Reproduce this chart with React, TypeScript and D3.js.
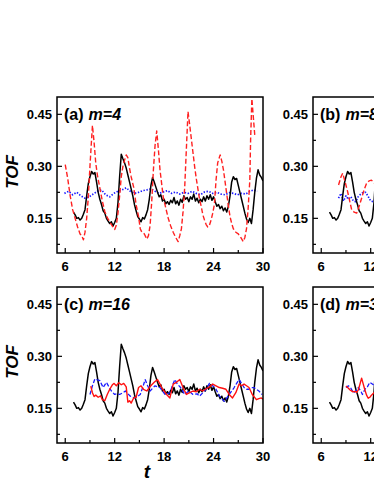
import React from "react";
import * as d3 from "d3";

// ---------- data ----------
const blackT = [7.0,7.2,7.4,7.6,7.8,8.0,8.2,8.4,8.6,8.8,9.0,9.2,9.4,9.6,9.8,10.0,10.2,10.4,10.6,10.8,11.0,11.2,11.4,11.6,11.8,12.0,12.2,12.4,12.6,12.8,13.0,13.2,13.4,13.6,13.8,14.0,14.2,14.4,14.6,14.8,15.0,15.2,15.4,15.6,15.8,16.0,16.2,16.4,16.6,16.8,17.0,17.2,17.4,17.6,17.8,18.0,18.2,18.4,18.6,18.8,19.0,19.2,19.4,19.6,19.8,20.0,20.2,20.4,20.6,20.8,21.0,21.2,21.4,21.6,21.8,22.0,22.2,22.4,22.6,22.8,23.0,23.2,23.4,23.6,23.8,24.0,24.2,24.4,24.6,24.8,25.0,25.2,25.4,25.6,25.8,26.0,26.2,26.4,26.6,26.8,27.0,27.2,27.4,27.6,27.8,28.0,28.2,28.4,28.6,28.8,29.0,29.2,29.4,29.6,29.8,30.0];
const blackV = [0.168,0.160,0.150,0.152,0.145,0.150,0.162,0.175,0.215,0.250,0.270,0.285,0.278,0.282,0.255,0.225,0.205,0.190,0.172,0.165,0.150,0.142,0.135,0.140,0.128,0.138,0.150,0.195,0.270,0.335,0.322,0.310,0.295,0.275,0.255,0.235,0.215,0.190,0.172,0.155,0.148,0.140,0.152,0.148,0.160,0.175,0.205,0.245,0.268,0.255,0.240,0.225,0.212,0.218,0.200,0.205,0.192,0.198,0.190,0.202,0.195,0.210,0.192,0.200,0.188,0.205,0.196,0.215,0.205,0.210,0.198,0.212,0.205,0.220,0.200,0.208,0.195,0.205,0.198,0.212,0.200,0.215,0.205,0.218,0.202,0.212,0.198,0.185,0.190,0.178,0.185,0.172,0.180,0.168,0.185,0.215,0.255,0.270,0.262,0.265,0.245,0.225,0.205,0.185,0.165,0.148,0.138,0.150,0.135,0.175,0.225,0.265,0.290,0.275,0.268,0.258];

// panel (a) m=4
const aRedT = [6.0,6.3,6.6,6.9,7.2,7.5,7.8,8.0,8.2,8.4,8.6,8.8,9.0,9.2,9.3,9.5,9.7,9.9,10.1,10.3,10.5,10.8,11.1,11.4,11.7,12.0,12.2,12.4,12.6,12.8,13.0,13.2,13.4,13.6,13.8,14.0,14.3,14.6,14.9,15.1,15.3,15.6,15.9,16.1,16.3,16.5,16.7,16.9,17.1,17.3,17.5,17.7,17.9,18.2,18.5,18.8,19.1,19.4,19.7,19.9,20.1,20.3,20.5,20.7,20.9,21.1,21.3,21.5,21.7,21.9,22.1,22.3,22.5,22.7,22.9,23.1,23.3,23.5,23.7,23.9,24.1,24.3,24.5,24.8,25.0,25.2,25.4,25.6,25.8,26.0,26.2,26.4,26.7,27.0,27.3,27.6,27.8,28.0,28.2,28.4,28.5,28.65,28.8,29.0];
const aRedV = [0.305,0.265,0.215,0.175,0.150,0.125,0.105,0.100,0.088,0.110,0.150,0.210,0.300,0.380,0.418,0.370,0.310,0.275,0.250,0.225,0.200,0.170,0.152,0.140,0.128,0.118,0.130,0.165,0.215,0.270,0.300,0.318,0.333,0.325,0.295,0.270,0.240,0.190,0.155,0.120,0.110,0.105,0.090,0.100,0.130,0.200,0.290,0.360,0.402,0.350,0.290,0.250,0.210,0.180,0.150,0.128,0.110,0.095,0.083,0.100,0.120,0.170,0.240,0.350,0.458,0.420,0.380,0.340,0.300,0.265,0.235,0.205,0.185,0.160,0.145,0.132,0.125,0.130,0.145,0.165,0.190,0.260,0.310,0.333,0.315,0.290,0.255,0.220,0.185,0.155,0.135,0.120,0.110,0.105,0.095,0.083,0.095,0.120,0.180,0.260,0.380,0.495,0.450,0.390];
const aBlueT = [5.9,6.4,6.9,7.4,7.9,8.4,8.9,9.4,9.9,10.4,10.9,11.4,11.9,12.4,12.9,13.4,13.9,14.4,14.9,15.4,15.9,16.4,16.9,17.4,17.9,18.4,18.9,19.4,19.9,20.4,20.9,21.4,21.9,22.4,22.9,23.4,23.9,24.4,24.9,25.4,25.9,26.4,26.9,27.4,27.9,28.4,28.9,29.3];
const aBlueV = [0.222,0.228,0.218,0.225,0.215,0.208,0.212,0.220,0.228,0.232,0.218,0.212,0.222,0.228,0.232,0.238,0.228,0.222,0.225,0.230,0.232,0.235,0.228,0.222,0.226,0.230,0.222,0.226,0.220,0.225,0.222,0.228,0.222,0.218,0.226,0.228,0.222,0.225,0.220,0.218,0.224,0.222,0.218,0.222,0.220,0.228,0.232,0.228];

// panel (b) m=8 (visible part)
const bRedT = [8.1,8.4,8.6,8.9,9.2,9.5,9.7,10.0,10.3,10.6,10.9,11.2,11.5,11.8,12.1,12.5,12.9];
const bRedV = [0.246,0.270,0.280,0.255,0.227,0.195,0.174,0.168,0.165,0.185,0.208,0.232,0.251,0.258,0.260,0.250,0.235];
const bBlueT = [8.1,8.4,8.7,9.0,9.3,9.6,9.9,10.2,10.5,10.8,11.1,11.4,11.7,12.0,12.3,12.6,12.9];
const bBlueV = [0.208,0.222,0.200,0.215,0.205,0.212,0.200,0.198,0.213,0.220,0.225,0.225,0.213,0.200,0.198,0.205,0.210];

// panel (c) m=16
const cRedT = [9.1,9.3,9.5,9.7,10.0,10.3,10.5,10.8,11.1,11.4,11.7,11.9,12.2,12.5,12.8,13.1,13.4,13.6,13.8,14.0,14.3,14.6,14.9,15.2,15.5,15.9,16.2,16.5,16.8,17.2,17.5,17.7,18.0,18.3,18.7,19.1,19.5,19.9,20.3,20.7,21.1,21.5,21.9,22.3,22.7,23.0,23.5,23.9,24.3,24.7,25.1,25.5,25.9,26.3,26.7,27.1,27.4,27.7,28.0,28.3,28.7,29.2,29.5,29.8,30.0];
const cRedV = [0.214,0.195,0.184,0.188,0.182,0.186,0.175,0.172,0.190,0.205,0.217,0.222,0.215,0.224,0.218,0.222,0.212,0.168,0.172,0.165,0.180,0.182,0.210,0.215,0.205,0.200,0.210,0.218,0.225,0.233,0.220,0.210,0.200,0.190,0.180,0.220,0.225,0.233,0.210,0.190,0.195,0.200,0.198,0.205,0.200,0.205,0.212,0.220,0.215,0.210,0.208,0.205,0.190,0.180,0.195,0.220,0.215,0.220,0.215,0.210,0.190,0.175,0.178,0.180,0.176];
const cBlueT = [9.0,9.3,9.6,9.9,10.2,10.6,11.0,11.3,11.6,12.0,12.3,12.6,13.0,13.3,13.6,13.9,14.2,14.5,14.8,15.1,15.4,15.7,16.0,16.3,16.6,16.9,17.2,17.5,17.8,18.1,18.4,18.7,19.0,19.3,19.6,20.0,20.5,21.0,21.5,22.0,22.3,22.7,23.1,23.5,23.9,24.3,24.7,25.0,25.3,25.6,25.9,26.2,26.5,26.8,27.1,27.4,27.7,28.0,28.3,28.6,28.9,29.2,29.5,29.9];
const cBlueV = [0.190,0.215,0.235,0.232,0.230,0.210,0.225,0.212,0.200,0.190,0.192,0.190,0.195,0.200,0.192,0.185,0.182,0.180,0.185,0.190,0.210,0.233,0.215,0.200,0.208,0.215,0.212,0.210,0.200,0.190,0.192,0.195,0.215,0.233,0.220,0.210,0.190,0.200,0.190,0.192,0.185,0.195,0.205,0.222,0.215,0.205,0.186,0.178,0.170,0.180,0.190,0.200,0.210,0.222,0.233,0.222,0.210,0.205,0.205,0.210,0.210,0.205,0.200,0.190];

// panel (d) m=32 (visible part)
const dRedT = [9.0,9.3,9.5,9.8,10.1,10.3,10.5,10.7,10.9,11.1,11.3,11.5,11.7,11.9,12.1,12.4,12.7];
const dRedV = [0.214,0.208,0.203,0.198,0.199,0.196,0.203,0.220,0.237,0.220,0.203,0.188,0.179,0.182,0.188,0.195,0.200];
const dBlueT = [9.0,9.3,9.6,9.9,10.2,10.5,10.8,11.0,11.3,11.6,11.9,12.2,12.5,12.8];
const dBlueV = [0.210,0.215,0.208,0.195,0.200,0.210,0.200,0.190,0.205,0.212,0.225,0.220,0.215,0.210];

const yTickLabels = ["0.15", "0.30", "0.45"];
const yTicks = [0.075, 0.15, 0.225, 0.30, 0.375, 0.45];
const xTickLabels = ["6", "12", "18", "24", "30"];
const xTicks = [6, 9, 12, 15, 18, 21, 24, 27, 30];

const xDomain: [number, number] = [5, 30];
const yDomain: [number, number] = [0.05, 0.5];

type Series = { t: number[]; v: number[]; color: string; dash?: string; width: number };

const FONT = "'Liberation Sans', Arial, Helvetica, sans-serif";

const BLACK: Series = { t: blackT, v: blackV, color: "#000", width: 1.5 };

const panels = [
  { id: "a", label: "(a)", m: "m=4", left: 57, top: 97, series: [
    { t: aBlueT, v: aBlueV, color: "#1a1aff", dash: "1.4,1.6", width: 1.7 },
    BLACK,
    { t: aRedT, v: aRedV, color: "#ff2020", dash: "5,2.5", width: 1.4 },
  ] as Series[] },
  { id: "b", label: "(b)", m: "m=8", left: 313, top: 97, series: [
    { t: bBlueT, v: bBlueV, color: "#1a1aff", dash: "1.4,1.6", width: 1.7 },
    BLACK,
    { t: bRedT, v: bRedV, color: "#ff2020", dash: "5,2.5", width: 1.4 },
  ] as Series[] },
  { id: "c", label: "(c)", m: "m=16", left: 57, top: 287, series: [
    BLACK,
    { t: cBlueT, v: cBlueV, color: "#1a1aff", dash: "4,2", width: 1.3 },
    { t: cRedT, v: cRedV, color: "#ff1010", width: 1.4 },
  ] as Series[] },
  { id: "d", label: "(d)", m: "m=32", left: 313, top: 287, series: [
    BLACK,
    { t: dBlueT, v: dBlueV, color: "#1a1aff", dash: "4,2", width: 1.3 },
    { t: dRedT, v: dRedV, color: "#ff1010", width: 1.4 },
  ] as Series[] },
];

const W = 206;
const H = 156;

function Panel({ p }: { p: typeof panels[number] }) {
  const x = d3.scaleLinear().domain(xDomain).range([0, W]);
  const y = d3.scaleLinear().domain(yDomain).range([H, 0]);
  const line = (s: Series) =>
    d3.line<number>().x((_, i) => x(s.t[i])).y((d) => y(d))(s.v) || "";
  const clipId = `clip-${p.id}`;
  return (
    <g transform={`translate(${p.left},${p.top})`}>
      <defs>
        <clipPath id={clipId}>
          <rect x={0} y={0} width={W} height={H} />
        </clipPath>
      </defs>
      <g clipPath={`url(#${clipId})`}>
        {p.series.map((s, i) => (
          <path key={i} d={line(s)} fill="none" stroke={s.color} strokeWidth={s.width}
            strokeDasharray={s.dash} strokeLinejoin="round" />
        ))}
      </g>
      <rect x={0} y={0} width={W} height={H} fill="none" stroke="#000" strokeWidth={1.5} />
      {yTicks.map((t, i) => (
        <line key={"yt" + i} x1={0} x2={i % 2 === 1 ? 5 : 3} y1={y(t)} y2={y(t)} stroke="#000" strokeWidth={1.2} />
      ))}
      {xTicks.map((t, i) => (
        <line key={"xt" + i} x1={x(t)} x2={x(t)} y1={H} y2={H - (i % 2 === 0 ? 5 : 3)} stroke="#000" strokeWidth={1.2} />
      ))}
      {yTickLabels.map((l) => (
        <text key={"yl" + l} x={-5} y={y(+l)} dy="0.36em" textAnchor="end" fontFamily={FONT}
          fontWeight="bold" fontSize={13} fill="#000">{l}</text>
      ))}
      {xTickLabels.map((l) => (
        <text key={"xl" + l} x={x(+l)} y={H + 18} textAnchor="middle" fontFamily={FONT}
          fontWeight="bold" fontSize={13} fill="#000">{l}</text>
      ))}
      <text x={7} y={y(0.45)} dy="0.36em" fontFamily={FONT} fontWeight="bold" fontSize={16} fill="#000">
        {p.label}
        <tspan dx={5} fontStyle="italic">{p.m}</tspan>
      </text>
    </g>
  );
}

export default function App() {
  return (
    <svg width={374} height={484} style={{ position: "absolute", left: 0, top: 0, background: "#fff" }}>
      <rect x={0} y={0} width={374} height={484} fill="#fff" />
      {panels.map((p) => (
        <Panel key={p.id} p={p} />
      ))}
      <text transform="translate(18,172) rotate(-90)" textAnchor="middle" fontFamily={FONT}
        fontWeight="bold" fontStyle="italic" fontSize={17} fill="#000">TOF</text>
      <text transform="translate(18,362) rotate(-90)" textAnchor="middle" fontFamily={FONT}
        fontWeight="bold" fontStyle="italic" fontSize={17} fill="#000">TOF</text>
      <text x={147} y={478} textAnchor="middle" fontFamily={FONT} fontWeight="bold"
        fontStyle="italic" fontSize={19} fill="#000">t</text>
    </svg>
  );
}
